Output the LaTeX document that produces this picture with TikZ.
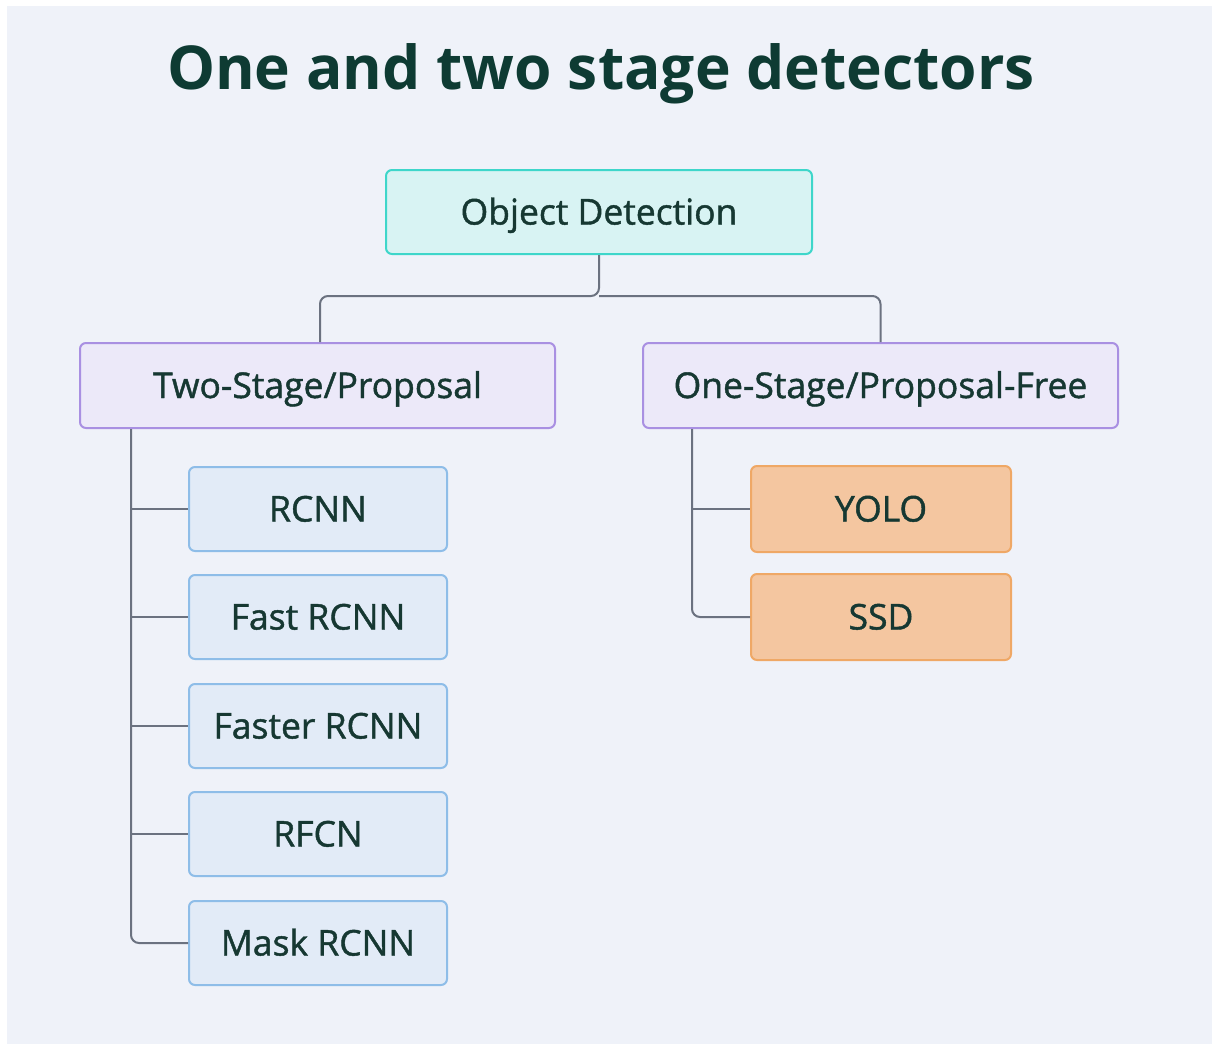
\documentclass[tikz,border=0pt]{standalone}
\usepackage{fontspec}
\setmainfont{Open Sans}
\newfontfamily\boxfont{Open Sans}[FakeBold=1.2]
\usetikzlibrary{calc}
\definecolor{bgc}{HTML}{EFF2F9}
\definecolor{titlec}{HTML}{0E3B33}
\definecolor{txtc}{HTML}{163832}
\definecolor{linec}{HTML}{6B7280}
\definecolor{odfill}{HTML}{D8F3F3}
\definecolor{oddraw}{HTML}{3ED6CA}
\definecolor{pfill}{HTML}{ECE9F9}
\definecolor{pdraw}{HTML}{A990E2}
\definecolor{bfill}{HTML}{E2EBF7}
\definecolor{bdraw}{HTML}{8EBDE8}
\definecolor{ofill}{HTML}{F4C6A0}
\definecolor{odraw}{HTML}{EFA866}
\tikzset{
  box/.style={rounded corners=6pt, line width=2pt, text=txtc, inner sep=0pt,
    font=\boxfont\fontsize{35.5}{40}\selectfont, text height=25pt, text depth=0pt},
  rootbox/.style={box, fill=odfill, draw=oddraw, minimum width=426pt, minimum height=84pt},
  catbox/.style={box, fill=pfill, draw=pdraw, minimum width=475pt, minimum height=85pt},
  leafbox/.style={box, fill=bfill, draw=bdraw, minimum width=258pt, minimum height=84pt},
  orbox/.style={box, fill=ofill, draw=odraw, minimum width=260pt, minimum height=86pt},
  conn/.style={draw=linec, line width=2pt, rounded corners=8pt}
}
\begin{document}
\begin{tikzpicture}[x=1pt,y=-1pt]
\useasboundingbox (0,0) rectangle (1212,1044);
\fill[bgc] (7,6) rectangle (1212,1044);
\node[text=titlec, font=\fontsize{60.5}{66}\selectfont\bfseries] (title) at (601,74) {One and two stage detectors};

\node[rootbox] (od) at (599,212) {Object Detection};
\node[catbox] (ts) at (317.5,385.5) {Two-Stage/Proposal};
\node[catbox] (os) at (880.5,385.5) {One-Stage/Proposal-Free};

\node[leafbox] (rcnn) at (318,509) {RCNN};
\node[leafbox] (fast) at (318,617) {Fast RCNN};
\node[leafbox] (faster) at (318,726) {Faster RCNN};
\node[leafbox] (rfcn) at (318,834) {RFCN};
\node[leafbox] (mask) at (318,943) {Mask RCNN};

\node[orbox] (yolo) at (881,509) {YOLO};
\node[orbox] (ssd) at (881,617) {SSD};

% root connectors
\coordinate (mid) at ($(od.south)+(0,41)$);
\draw[conn] (od.south) -- (mid) -| ([xshift=2.5pt]ts.north);
\draw[conn] (mid) -| (os.north);

% left spine
\coordinate (ls) at ([xshift=52pt]ts.south west);
\draw[conn] (ls) |- (mask.west);
\foreach \n in {rcnn,fast,faster,rfcn}
  \draw[conn] (ls |- \n.west) -- (\n.west);

% right spine
\coordinate (rs) at ([xshift=50pt]os.south west);
\draw[conn] (rs) |- (ssd.west);
\draw[conn] (rs |- yolo.west) -- (yolo.west);
\end{tikzpicture}
\end{document}
